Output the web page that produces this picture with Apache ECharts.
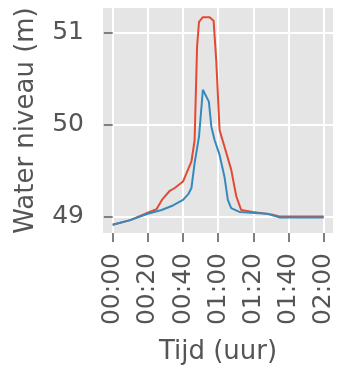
<!DOCTYPE html>
<html>
<head>
<meta charset="utf-8">
<script src="https://cdn.jsdelivr.net/npm/echarts@6/dist/echarts.min.js"></script>
<style>
  html, body { margin: 0; padding: 0; background: #fff; }
  #main { width: 339px; height: 370px; }
</style>
</head>
<body>
<div id="main"></div>
<script>
// tijd in minuten
var tijdRood = [0, 10, 20, 25, 28, 32.5, 35.3, 40, 44.8, 46.6, 48, 49.1, 51.3, 55.1, 57.4, 58.9, 60.8, 63.6, 67.4, 70.3, 73.1, 79.7, 91, 94.8, 120];
var rood = [48.91, 48.96, 49.04, 49.08, 49.18, 49.28, 49.31, 49.38, 49.6, 49.83, 50.85, 51.12, 51.17, 51.17, 51.13, 50.70, 49.94, 49.76, 49.51, 49.22, 49.07, 49.05, 49.02, 49.0, 49.0];
var tijdBlauw = [0, 10, 20, 27.8, 34.3, 40, 42.9, 44.8, 46.6, 49.1, 51.3, 52.2, 54.7, 56.1, 58, 60.8, 63.6, 65.5, 67.4, 72.1, 88, 94.8, 120];
var blauw = [48.91, 48.96, 49.03, 49.07, 49.12, 49.18, 49.24, 49.31, 49.58, 49.87, 50.38, 50.36, 50.25, 49.98, 49.83, 49.67, 49.43, 49.18, 49.09, 49.05, 49.03, 48.99, 48.99];
var xTicks = [0, 20, 40, 60, 80, 100, 120];
var yTicks = [49, 50, 51];

function pairs(t, v) { return t.map(function (x, i) { return [x, v[i]]; }); }
function hhmm(m) {
  var h = Math.floor(m / 60), mm = Math.round(m % 60);
  return (h < 10 ? '0' : '') + h + ':' + (mm < 10 ? '0' : '') + mm;
}

var chart = echarts.init(document.getElementById('main'));
var txt = '#555555';
chart.setOption({
  animation: false,
  textStyle: { fontFamily: 'DejaVu Sans' },
  grid: { left: 103, right: 6, top: 8, bottom: 136, show: true, backgroundColor: '#E5E5E5', borderWidth: 0 },
  xAxis: {
    type: 'value', min: -5.5, max: 125.3,
    name: 'Tijd (uur)', nameLocation: 'middle', nameGap: 106,
    nameTextStyle: { color: txt, fontSize: 26 },
    axisLine: { show: false },
    axisTick: { show: true, length: 9, lineStyle: { color: txt, width: 1.5 }, customValues: xTicks },
    axisLabel: { customValues: xTicks, formatter: hhmm, rotate: 90, color: txt, fontSize: 25, margin: 20 },
    splitLine: { show: true, lineStyle: { color: '#fff', width: 2 } }
  },
  yAxis: {
    type: 'value', min: 48.82, max: 51.27,
    name: 'Water niveau (m)', nameLocation: 'middle', nameGap: 64,
    nameTextStyle: { color: txt, fontSize: 26 },
    axisLine: { show: false },
    axisTick: { show: true, length: 9, lineStyle: { color: txt, width: 1.5 }, customValues: yTicks },
    axisLabel: { customValues: yTicks, color: txt, fontSize: 25, margin: 19 },
    splitLine: { show: true, lineStyle: { color: '#fff', width: 2 } }
  },
  series: [
    { type: 'line', data: pairs(tijdRood, rood), showSymbol: false, lineStyle: { color: '#E24A33', width: 2 }, z: 3 },
    { type: 'line', data: pairs(tijdBlauw, blauw), showSymbol: false, lineStyle: { color: '#348ABD', width: 2 }, z: 4 }
  ]
});
</script>
</body>
</html>
